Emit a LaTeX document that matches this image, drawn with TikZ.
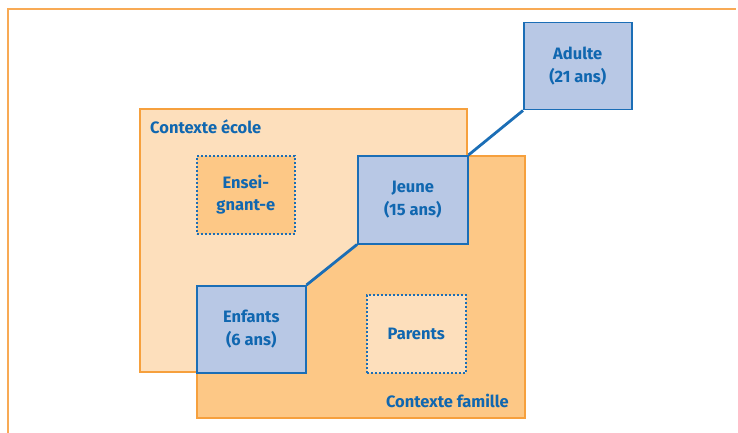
\documentclass[tikz,border=0pt]{standalone}
\usepackage{fontspec}
\setmainfont{Fira Sans}
\definecolor{lightor}{HTML}{FDDFBC}
\definecolor{darkor}{HTML}{FDC886}
\definecolor{orline}{HTML}{F6A03D}
\definecolor{frameor}{HTML}{F8AA55}
\definecolor{bluetxt}{HTML}{1067B0}
\definecolor{boxfill}{HTML}{B8C8E5}
\definecolor{boxline}{HTML}{1B6EB6}
\tikzset{
  agebox/.style={draw=boxline, line width=1.5pt, fill=boxfill, anchor=north west,
    inner sep=0pt, align=center, text=bluetxt, font=\fontsize{16.5}{22.5}\selectfont\bfseries},
  rolebox/.style={draw=boxline, line width=1.6pt, dash pattern=on 1.8pt off 2.2pt, anchor=north west,
    inner sep=0pt, align=center, text=bluetxt, font=\fontsize{16.5}{22.5}\selectfont\bfseries},
  ctxlabel/.style={inner sep=0pt, text=bluetxt, font=\fontsize{16.5}{20}\selectfont\bfseries},
  conn/.style={draw=boxline, line width=2.8pt},
  ctxline/.style={draw=orline, line width=1.5pt}
}
\begin{document}
\begin{tikzpicture}[x=1pt,y=-1pt]
\useasboundingbox (0,0) rectangle (738,433);
% outer frame
\draw[draw=frameor, line width=1.5pt] (8,440) -- (8,9) -- (736,9);
% famille context
\node[ctxline, fill=darkor, anchor=north west, minimum width=328pt, minimum height=262pt, inner sep=0pt] (famille) at (196,155) {};
% ecole context (visible part)
\fill[lightor] (140,109) -- (467,109) -- (467,155) -- (357,155) -- (357,243) -- (305,285) -- (196,285) -- (196,372) -- (140,372) -- cycle;
\draw[ctxline] (196,372) -- (140,372) -- (140,109) -- (467,109) -- (467,155);
% role boxes
\node[rolebox, fill=darkor, minimum width=98pt, minimum height=78pt] (ens) at (196,155) {Ensei-\\gnant-e};
\node[rolebox, fill=lightor, minimum width=99pt, minimum height=78pt] (par) at (366,294) {Parents};
% age boxes
\node[agebox, minimum width=109pt, minimum height=87pt] (enf) at (196,285) {Enfants\\(6 ans)};
\node[agebox, minimum width=110pt, minimum height=88pt] (jeu) at (357,155) {Jeune\\(15 ans)};
\node[agebox, minimum width=108pt, minimum height=87pt] (adu) at (523,22) {Adulte\\(21 ans)};
% connectors
\draw[conn] (enf.north east) -- (jeu.south west);
\draw[conn] (jeu.north east) -- (adu.south west);
% labels
\node[ctxlabel, anchor=base west] (lecole) at (150,133) {Contexte école};
\node[ctxlabel, anchor=base east] (lfam) at (509,407) {Contexte famille};
\end{tikzpicture}
\end{document}
